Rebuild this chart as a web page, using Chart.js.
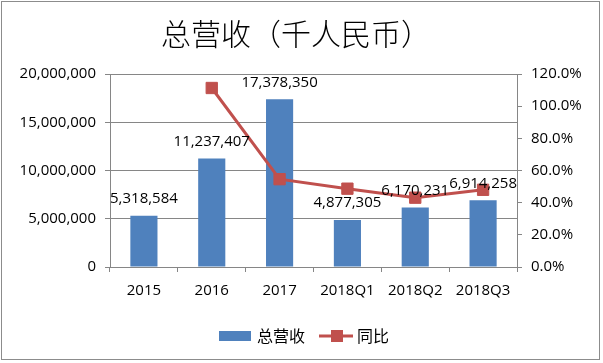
<!DOCTYPE html>
<html>
<head>
<meta charset="utf-8">
<script src="https://cdn.jsdelivr.net/npm/chart.js@4"></script>
<style>
  html, body { margin: 0; padding: 0; background: #fff; }
  #wrap { position: relative; width: 603px; height: 363px; }
  #frame { position: absolute; left: 1px; top: 1px; width: 599px; height: 359px; border: 1px solid #8c8c8c; box-sizing: border-box; pointer-events: none; }
</style>
</head>
<body>
<div id="wrap">
  <canvas id="revenueChart" width="603" height="363"></canvas>
  <div id="frame"></div>
</div>
<script>
// chart data
const categories = ["2015", "2016", "2017", "2018Q1", "2018Q2", "2018Q3"];
const revenue = [5318584, 11237407, 17378350, 4877305, 6170231, 6914258];
const yoy = [null, 1.113, 0.546, 0.487, 0.431, 0.480];
const leftTicks = [0, 5000000, 10000000, 15000000, 20000000];
const rightTicks = [0, 0.2, 0.4, 0.6, 0.8, 1.0, 1.2];

const titleText = "总营收（千人民币）";
const barLabel = "总营收";
const lineLabel = "同比";

const blue = "#4F81BD";
const red = "#C0504D";
const gridGray = "#868686";
const latinFont = "'Open Sans', 'Liberation Sans', sans-serif";
const cjkFont = "'Noto Sans CJK SC', sans-serif";

// Helper to put commas in big numbers
function withCommas(n) {
  return n.toString().replace(/\B(?=(\d{3})+(?!\d))/g, ",");
}

// title, bar value labels and legend drawn on the canvas
const extrasPlugin = {
  id: "extras",
  afterDatasetsDraw(chart) {
    const ctx = chart.ctx;
    ctx.save();
    ctx.fillStyle = "#000";
    ctx.font = "15px " + latinFont;
    ctx.textAlign = "center";
    ctx.textBaseline = "middle";
    // bars are the second dataset
    chart.getDatasetMeta(1).data.forEach((bar, i) => {
      ctx.fillText(withCommas(revenue[i]), bar.x, bar.y - 17);
    });
    ctx.restore();
  },
  afterDraw(chart) {
    const ctx = chart.ctx;
    ctx.save();
    // title
    ctx.fillStyle = "#000";
    ctx.font = "300 30px " + cjkFont;
    ctx.textAlign = "center";
    ctx.textBaseline = "middle";
    ctx.fillText(titleText, 296, 34);

    // legend
    const ly = 336;
    ctx.font = "16px " + cjkFont;
    ctx.textAlign = "left";
    ctx.fillStyle = blue;
    ctx.fillRect(219, ly - 5, 32, 10);
    ctx.fillStyle = "#000";
    ctx.fillText(barLabel, 257, ly);

    ctx.strokeStyle = red;
    ctx.lineWidth = 3;
    ctx.beginPath();
    ctx.moveTo(319, ly);
    ctx.lineTo(353, ly);
    ctx.stroke();
    ctx.fillStyle = red;
    ctx.fillRect(331, ly - 6, 12, 12);
    ctx.fillStyle = "#000";
    ctx.fillText(lineLabel, 357, ly);
    ctx.restore();
  }
};

new Chart(document.getElementById("revenueChart"), {
  type: "bar",
  data: {
    labels: categories,
    datasets: [
      {
        type: "line",
        label: lineLabel,
        data: yoy,
        yAxisID: "y1",
        borderColor: red,
        backgroundColor: red,
        borderWidth: 3,
        pointStyle: "rect",
        pointRadius: 8,
        pointBorderWidth: 1,
        pointHoverRadius: 8,
        fill: false,
        order: 0,
      },
      {
        type: "bar",
        label: barLabel,
        data: revenue,
        yAxisID: "y",
        backgroundColor: blue,
        barPercentage: 0.4,
        categoryPercentage: 1.0,
        order: 1,
      },
    ],
  },
  plugins: [extrasPlugin],
  options: {
    responsive: false,
    animation: false,
    layout: { padding: { top: 74, bottom: 56, left: 0, right: 0 } },
    plugins: {
      legend: { display: false },
      title: { display: false },
      tooltip: { enabled: false },
    },
    scales: {
      x: {
        offset: true,
        grid: { drawOnChartArea: false, offset: true, tickLength: 5, color: gridGray },
        border: { color: gridGray },
        ticks: { color: "#000", font: { size: 15, family: latinFont }, padding: 10 },
        afterFit: (scale) => { scale.height = 40; },
      },
      y: {
        position: "left",
        min: 0,
        max: 20000000,
        afterBuildTicks: (scale) => { scale.ticks = leftTicks.map((v) => ({ value: v })); },
        grid: { color: gridGray, tickLength: 5 },
        border: { color: gridGray },
        ticks: {
          color: "#000",
          font: { size: 15, family: latinFont },
          padding: 9,
          callback: (value) => withCommas(value),
        },
        afterFit: (scale) => { scale.width = 110; },
      },
      y1: {
        position: "right",
        min: 0,
        max: 1.2,
        afterBuildTicks: (scale) => { scale.ticks = rightTicks.map((v) => ({ value: v })); },
        grid: { drawOnChartArea: false, color: gridGray, tickLength: 5 },
        border: { color: gridGray },
        ticks: {
          color: "#000",
          font: { size: 15, family: latinFont },
          padding: 9,
          callback: (value) => (value * 100).toFixed(1) + "%",
        },
        afterFit: (scale) => { scale.width = 86; },
      },
    },
  },
});
</script>
</body>
</html>
